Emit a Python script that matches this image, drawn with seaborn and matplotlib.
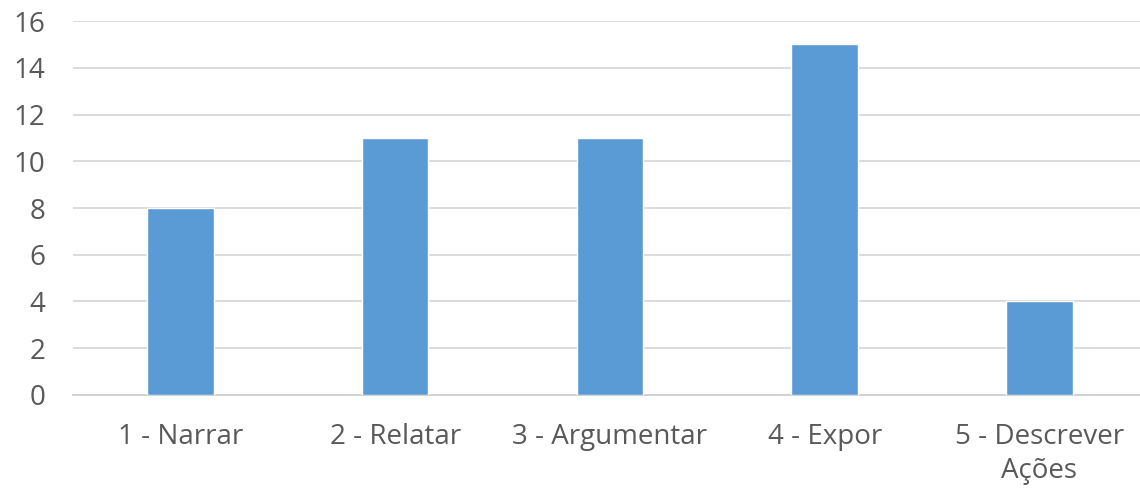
import matplotlib
matplotlib.use("Agg")
import matplotlib.pyplot as plt
import seaborn as sns
import pandas as pd

categories = ["1 - Narrar", "2 - Relatar", "3 - Argumentar", "4 - Expor", "5 - Descrever\nAções"]
values = [8, 11, 11, 15, 4]
yticks = [0, 2, 4, 6, 8, 10, 12, 14, 16]

df = pd.DataFrame({"categoria": categories, "valor": values})

sns.set_style("white")
plt.rcParams["font.family"] = ["Open Sans", "DejaVu Sans"]

fig = plt.figure(figsize=(11.4, 4.9), dpi=100)
ax = fig.add_axes([0.064, 0.194, 0.942, 0.763])

sns.barplot(data=df, x="categoria", y="valor", color="#5B9BD5", width=0.31,
            saturation=1, ax=ax, zorder=3)

ax.set_ylim(0, 16)
ax.set_xlim(-0.5, 4.5)
ax.set_yticks(yticks)
ax.grid(axis="y", color="#D9D9D9", linewidth=1.3, zorder=0)
ax.set_xlabel("")
ax.set_ylabel("")
for s in ["top", "right", "left"]:
    ax.spines[s].set_visible(False)
ax.spines["bottom"].set_color("#D0D0D0")
ax.spines["bottom"].set_linewidth(1.3)
ax.tick_params(axis="both", length=0, labelsize=20, colors="#595959")
ax.tick_params(axis="y", pad=20)
ax.tick_params(axis="x", pad=20)
for lbl in ax.get_xticklabels():
    lbl.set_linespacing(1.3)

plt.savefig("out.png", dpi=100)
plt.close()
